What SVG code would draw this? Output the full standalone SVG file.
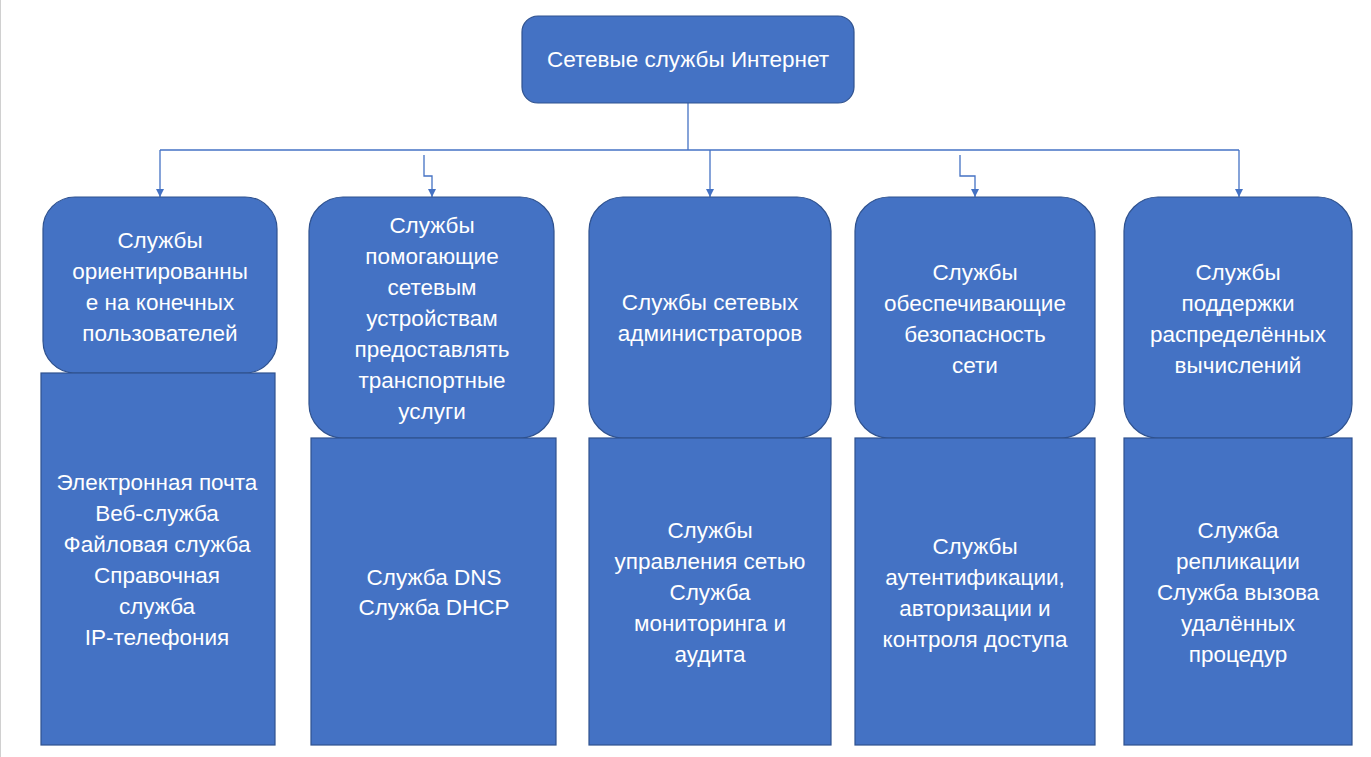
<svg xmlns="http://www.w3.org/2000/svg" width="1371" height="757" viewBox="0 0 1371 757">
<style>
.n{fill:#4472C4;stroke:#2F528F;stroke-width:1.2}
.t{fill:#fff;font-family:"Liberation Sans",Arial,sans-serif;font-size:22.5px;text-anchor:middle}
.c{fill:none;stroke:#4472C4;stroke-width:1.3}
</style>
<defs>
<marker id="a" viewBox="0 0 10 10" refX="10" refY="5" markerWidth="8" markerHeight="8" markerUnits="userSpaceOnUse" orient="auto">
<path d="M0,0 L10,5 L0,10 Z" fill="#4472C4"/>
</marker>
</defs>
<rect width="1371" height="757" fill="#fff"/>
<line x1="0.5" y1="0" x2="0.5" y2="757" stroke="#d0d0d0" stroke-width="1"/>
<g id="connectors">
<path class="c" d="M688,103 V150"/>
<path class="c" d="M160,150 H1239"/>
<path class="c" d="M160,150 V197" marker-end="url(#a)"/>
<path class="c" d="M424,155 V176 H432 V197" marker-end="url(#a)"/>
<path class="c" d="M710,150 V197" marker-end="url(#a)"/>
<path class="c" d="M960,155 V176 H975 V197" marker-end="url(#a)"/>
<path class="c" d="M1239,150 V197" marker-end="url(#a)"/>
</g>
<g id="root">
<rect class="n" x="522" y="16" width="332" height="87" rx="16"/>
<text class="t" x="688" y="67">Сетевые службы Интернет</text>
</g>
<g id="n1">
<rect class="n" x="43" y="197" width="234" height="176" rx="32"/>
<text class="t" x="160"><tspan x="160" y="248">Службы</tspan><tspan x="160" y="279">ориентированны</tspan><tspan x="160" y="310">е на конечных</tspan><tspan x="160" y="341">пользователей</tspan></text>
</g>
<g id="n1b">
<rect class="n" x="41" y="373" width="234" height="372"/>
<text class="t" x="157"><tspan x="157" y="490">Электронная почта</tspan><tspan x="157" y="521">Веб-служба</tspan><tspan x="157" y="552">Файловая служба</tspan><tspan x="157" y="583">Справочная</tspan><tspan x="157" y="614">служба</tspan><tspan x="157" y="645">IP-телефония</tspan></text>
</g>
<g id="n2">
<rect class="n" x="309" y="197" width="245" height="241" rx="34"/>
<text class="t" x="432"><tspan x="432" y="233">Службы</tspan><tspan x="432" y="264">помогающие</tspan><tspan x="432" y="295">сетевым</tspan><tspan x="432" y="326">устройствам</tspan><tspan x="432" y="357">предоставлять</tspan><tspan x="432" y="388">транспортные</tspan><tspan x="432" y="419">услуги</tspan></text>
</g>
<g id="n2b">
<rect class="n" x="311" y="438" width="245" height="307"/>
<text class="t" x="434"><tspan x="434" y="585">Служба DNS</tspan><tspan x="434" y="615">Служба DHCP</tspan></text>
</g>
<g id="n3">
<rect class="n" x="589" y="197" width="242" height="241" rx="34"/>
<text class="t" x="710"><tspan x="710" y="310">Службы сетевых</tspan><tspan x="710" y="341">администраторов</tspan></text>
</g>
<g id="n3b">
<rect class="n" x="589" y="438" width="242" height="307"/>
<text class="t" x="710"><tspan x="710" y="538">Службы</tspan><tspan x="710" y="569">управления сетью</tspan><tspan x="710" y="600">Служба</tspan><tspan x="710" y="631">мониторинга и</tspan><tspan x="710" y="662">аудита</tspan></text>
</g>
<g id="n4">
<rect class="n" x="855" y="197" width="240" height="241" rx="34"/>
<text class="t" x="975"><tspan x="975" y="280">Службы</tspan><tspan x="975" y="311">обеспечивающие</tspan><tspan x="975" y="342">безопасность</tspan><tspan x="975" y="373">сети</tspan></text>
</g>
<g id="n4b">
<rect class="n" x="855" y="438" width="240" height="307"/>
<text class="t" x="975"><tspan x="975" y="554">Службы</tspan><tspan x="975" y="585">аутентификации,</tspan><tspan x="975" y="616">авторизации и</tspan><tspan x="975" y="647">контроля доступа</tspan></text>
</g>
<g id="n5">
<rect class="n" x="1124" y="197" width="228" height="241" rx="34"/>
<text class="t" x="1238"><tspan x="1238" y="280">Службы</tspan><tspan x="1238" y="311">поддержки</tspan><tspan x="1238" y="342">распределённых</tspan><tspan x="1238" y="373">вычислений</tspan></text>
</g>
<g id="n5b">
<rect class="n" x="1124" y="438" width="228" height="307"/>
<text class="t" x="1238"><tspan x="1238" y="538">Служба</tspan><tspan x="1238" y="569">репликации</tspan><tspan x="1238" y="600">Служба вызова</tspan><tspan x="1238" y="631">удалённых</tspan><tspan x="1238" y="662">процедур</tspan></text>
</g>
</svg>
